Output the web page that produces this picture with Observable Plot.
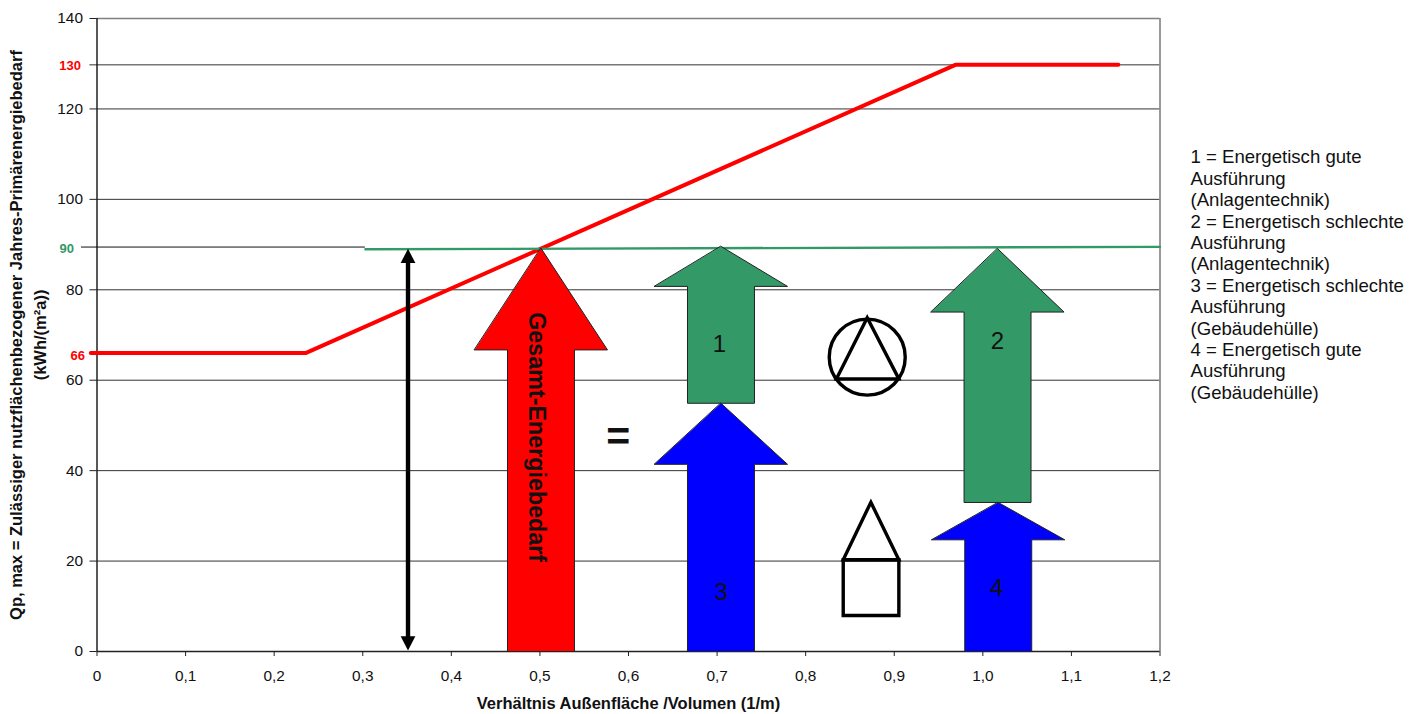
<!DOCTYPE html>
<html><head><meta charset="utf-8">
<script src="https://cdn.jsdelivr.net/npm/d3@7"></script>
<script src="https://cdn.jsdelivr.net/npm/@observablehq/plot@0.6"></script>
<style>html,body{margin:0;padding:0;background:#fff}svg{display:block}</style>
</head><body><div id="c"></div>
<script>
const xTicks = [0,0.1,0.2,0.3,0.4,0.5,0.6,0.7,0.8,0.9,1,1.1,1.2];
const yTicks = [0,20,40,60,80,100,120,140];
const gridValues = [20,40,60,80,100,120];
const limitRedX = [-0.007,0.2354,0.969,1.153];
const limitRedY = [66,66,129.75,129.75];
const limitGreenX = [0.303,1.2];
const limitGreenY = [88.95,89.5];
const arrowNames = ["Gesamt","1","3","2","4"];
const arrowColors = ["#ff0000","#339966","#0000ff","#339966","#0000ff"];
const arrowCenter = [0.5012,0.7044,0.7044,1.0166,1.0174];
const arrowTip = [89.2,89.6,54.9,89.1,32.96];
const arrowNeck = [66.7,80.75,41.4,75.07,24.7];
const arrowBase = [0,54.9,0,32.96,0];
const headHalf = 0.0751, shaftHalf = 0.0378;
const arrowLabels = [["1",0.7025,67.9],["2",1.0166,68.5],["3",0.7045,13.0],["4",1.0155,13.9]];
const legend = "1 = Energetisch gute\nAusführung\n(Anlagentechnik)\n2 = Energetisch schlechte\nAusführung\n(Anlagentechnik)\n3 = Energetisch schlechte\nAusführung\n(Gebäudehülle)\n4 = Energetisch gute\nAusführung\n(Gebäudehülle)";
const yTitle = "Qp, max = Zulässiger nutzflächenbezogener Jahres-Primärenergiebedarf\n(kWh/(m²a))";
const xTitle = "Verhältnis Außenfläche /Volumen (1/m)";

const arrows = arrowNames.flatMap((n,i)=>{
  const c=arrowCenter[i];
  return [[c,arrowTip[i]],[c+headHalf,arrowNeck[i]],[c+shaftHalf,arrowNeck[i]],[c+shaftHalf,arrowBase[i]],
          [c-shaftHalf,arrowBase[i]],[c-shaftHalf,arrowNeck[i]],[c-headHalf,arrowNeck[i]]]
    .map(([x,y])=>({n,x,y,color:arrowColors[i]}));
});
const dblX = 0.3511;
const dblHeads = [
  {n:"t",x:dblX,y:89.1},{n:"t",x:dblX+0.0083,y:85.9},{n:"t",x:dblX-0.0083,y:85.9},
  {n:"b",x:dblX,y:0.2},{n:"b",x:dblX+0.0083,y:3.4},{n:"b",x:dblX-0.0083,y:3.4}
];
const outlines = [
  {n:"tri",x:0.8695,y:73.8},{n:"tri",x:0.9052,y:60.3},{n:"tri",x:0.8348,y:60.3},
  {n:"roof",x:0.8736,y:33.0},{n:"roof",x:0.9052,y:20.3},{n:"roof",x:0.8424,y:20.3},
  {n:"sq",x:0.8424,y:20.3},{n:"sq",x:0.9052,y:20.3},{n:"sq",x:0.9052,y:7.96},{n:"sq",x:0.8424,y:7.96}
];
const gridStroke="#333";
const chart = Plot.plot({
  width:1420,height:714,marginLeft:96.5,marginRight:260.5,marginTop:18,marginBottom:63,
  style:{fontFamily:"'Liberation Sans',Arial,sans-serif",fontSize:"15px",color:"#111",background:"#fff",overflow:"visible"},
  x:{domain:[0,1.2]},y:{domain:[0,140]},
  marks:[
    Plot.ruleY(gridValues,{x1:0,x2:1.2,stroke:gridStroke,strokeWidth:1}),
    Plot.ruleY([129.75],{x1:-0.008,x2:1.2,stroke:gridStroke,strokeWidth:1}),
    Plot.ruleY([89.45],{x1:-0.0175,x2:0.303,stroke:"#111",strokeWidth:1}),
    Plot.ruleY([140],{x1:0,x2:1.2,stroke:"#808080",strokeWidth:1.3}),
    Plot.ruleX([1.2],{y1:0,y2:140,stroke:"#808080",strokeWidth:1.6}),
    Plot.ruleX([0],{y1:0,y2:140,stroke:"#111",strokeWidth:1.4}),
    Plot.ruleY([0],{x1:0,x2:1.2,stroke:"#222",strokeWidth:1.4}),
    Plot.axisX({ticks:xTicks,tickSize:5,tickPadding:14,tickFormat:d=>d===0?"0":d.toFixed(1).replace(".",","),label:null,fontSize:15.4,stroke:"#222"}),
    Plot.axisY({ticks:yTicks,tickSize:7,tickPadding:7,label:null,fontSize:15.4,stroke:"#222"}),
    Plot.line(limitRedX.map((x,i)=>({x,y:limitRedY[i]})),{x:"x",y:"y",stroke:"#ff0000",strokeWidth:4,strokeLinejoin:"miter"}),
    Plot.line(limitGreenX.map((x,i)=>({x,y:limitGreenY[i]})),{x:"x",y:"y",stroke:"#339966",strokeWidth:2.4}),
    Plot.line(arrows,{x:"x",y:"y",z:"n",fill:"color",stroke:"#222",strokeWidth:1,curve:"linear-closed",strokeLinejoin:"miter",strokeMiterlimit:10}),
    Plot.ruleX([dblX],{y1:3,y2:86,stroke:"#000",strokeWidth:4.4}),
    Plot.line(dblHeads,{x:"x",y:"y",z:"n",fill:"#000",stroke:"none",curve:"linear-closed"}),
    Plot.dot([[0.8695,65.1]],{x:d=>d[0],y:d=>d[1],r:38,stroke:"#000",strokeWidth:3.4,fill:"none"}),
    Plot.line(outlines,{x:"x",y:"y",z:"n",fill:"none",stroke:"#000",strokeWidth:3.4,curve:"linear-closed",strokeLinejoin:"miter",strokeMiterlimit:4}),
    Plot.text(arrowLabels,{x:d=>d[1],y:d=>d[2],text:d=>d[0],fontSize:24,fill:"#111"}),
    Plot.text(["Gesamt-Energiebedarf"],{x:0.4965,y:47.4,rotate:90,fontSize:23.3,fontWeight:"bold",fill:"#111"}),
    Plot.text(["="],{x:0.5885,y:47.5,fontSize:41,fontWeight:"bold",fill:"#111"}),
    Plot.text(["130"],{x:0,y:129.5,dx:-16,textAnchor:"end",fontSize:13,fontWeight:"bold",fill:"#ff0000"}),
    Plot.text(["90"],{x:0,y:89,dx:-23,textAnchor:"end",fontSize:13,fontWeight:"bold",fill:"#339966"}),
    Plot.text(["66"],{x:0,y:65.5,dx:-12,textAnchor:"end",fontSize:13,fontWeight:"bold",fill:"#ff0000"}),
    Plot.text([yTitle],{frameAnchor:"left",dx:-70.5,rotate:-90,textAnchor:"middle",lineAnchor:"middle",fontSize:16.5,fontWeight:"bold",lineHeight:1.45,fill:"#111"}),
    Plot.text([xTitle],{frameAnchor:"bottom",dy:57,fontSize:16.5,fontWeight:"bold",fill:"#111"}),
    Plot.text([legend],{x:1.2,y:111.3,dx:30.5,textAnchor:"start",lineAnchor:"top",fontSize:18.6,lineHeight:1.15,fill:"#111"})
  ]
});
document.getElementById("c").append(chart);
</script></body></html>
